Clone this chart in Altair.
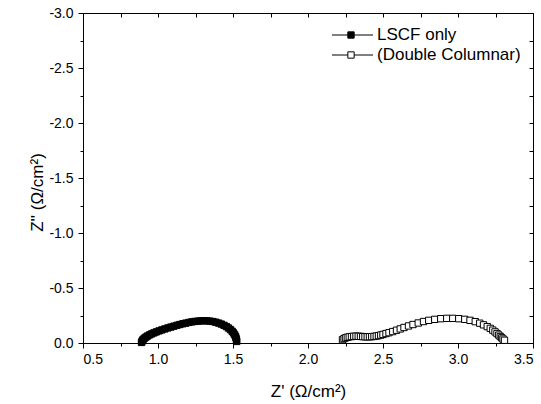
import altair as alt
import pandas as pd

# Impedance spectra (Nyquist form): real part Z' and imaginary part Z'' in ohm/cm^2
series_names = ["LSCF only", "(Double Columnar)"]
series_fills = ["black", "white"]

lscf_zre = [0.890, 0.893, 0.897, 0.902, 0.910, 0.920, 0.931, 0.944, 0.958, 0.973,
            0.989, 1.007, 1.026, 1.046, 1.066, 1.086, 1.106, 1.126, 1.146, 1.166,
            1.186, 1.206, 1.226, 1.246, 1.266, 1.286, 1.306, 1.326, 1.346, 1.366,
            1.385, 1.404, 1.422, 1.440, 1.456, 1.470, 1.483, 1.494, 1.503, 1.510,
            1.516, 1.520, 1.523, 1.525]
lscf_zim = [-0.005, -0.014, -0.024, -0.034, -0.044, -0.054, -0.064, -0.074, -0.083, -0.092,
            -0.101, -0.110, -0.119, -0.128, -0.137, -0.145, -0.153, -0.161, -0.168, -0.175,
            -0.181, -0.187, -0.192, -0.196, -0.199, -0.201, -0.202, -0.201, -0.199, -0.195,
            -0.189, -0.181, -0.172, -0.161, -0.149, -0.136, -0.122, -0.107, -0.092, -0.077,
            -0.062, -0.046, -0.030, -0.014]

dc_zre = [2.230, 2.240, 2.250, 2.262, 2.275, 2.290, 2.305, 2.320, 2.335, 2.350,
          2.365, 2.380, 2.395, 2.410, 2.425, 2.440, 2.455, 2.470, 2.485, 2.500,
          2.520, 2.540, 2.565, 2.590, 2.615, 2.640, 2.670, 2.700, 2.735, 2.770,
          2.805, 2.845, 2.885, 2.925, 2.965, 3.005, 3.045, 3.080, 3.115, 3.145,
          3.170, 3.195, 3.215, 3.232, 3.247, 3.260, 3.272, 3.282, 3.292, 3.300,
          3.310]
dc_zim = [-0.030, -0.040, -0.047, -0.052, -0.056, -0.059, -0.061, -0.062, -0.061, -0.060,
          -0.058, -0.057, -0.056, -0.057, -0.058, -0.060, -0.063, -0.067, -0.072, -0.078,
          -0.086, -0.094, -0.104, -0.116, -0.128, -0.141, -0.155, -0.168, -0.182, -0.195,
          -0.206, -0.215, -0.221, -0.224, -0.224, -0.221, -0.215, -0.206, -0.194, -0.180,
          -0.165, -0.149, -0.133, -0.117, -0.101, -0.086, -0.072, -0.059, -0.047, -0.036,
          -0.025]

x_ticks = [0.5, 0.75, 1.0, 1.25, 1.5, 1.75, 2.0, 2.25, 2.5, 2.75, 3.0, 3.25, 3.5]
y_ticks = [0.0, -0.25, -0.5, -0.75, -1.0, -1.25, -1.5, -1.75, -2.0, -2.25, -2.5, -2.75, -3.0]

rows = []
for name, xs, ys in [(series_names[0], lscf_zre, lscf_zim), (series_names[1], dc_zre, dc_zim)]:
    for i, (a, b) in enumerate(zip(xs, ys)):
        rows.append({"series": name, "zre": a, "zim": b, "idx": i})
df = pd.DataFrame(rows)
legend_df = pd.DataFrame({"series": series_names})

FONT = "Liberation Sans"
major = "datum.value % 0.5 === 0"
tick_len = {"condition": {"test": major, "value": 5}, "value": 3}

x_scale = alt.Scale(domain=[0.5, 3.5], nice=False, zero=False)
y_scale = alt.Scale(domain=[-3.0, 0.0], nice=False, zero=False, reverse=True)

axis_style = dict(grid=False, domainColor="black", tickColor="black", tickWidth=1,
                  labelFont=FONT, labelFontSize=14, labelColor="black",
                  titleFont=FONT, titleFontSize=17, titleFontWeight="normal", titleColor="black")

x_axis = alt.Axis(values=x_ticks, tickSize=tick_len, labelPadding=4,
                  labelExpr=f"{major} ? format(datum.value, '.1f') : ''",
                  title="Z' (Ω/cm²)", titleX=225, titleY=48, titleBaseline="middle",
                  titleAlign="center", **axis_style)
y_axis = alt.Axis(values=y_ticks, tickSize=tick_len, labelPadding=5,
                  labelExpr=f"{major} ? replace(format(datum.value, '.1f'), '\u2212', '-') : ''",
                  title="Z'' (Ω/cm²)", titleX=-46, titleY=179, titleAngle=-90,
                  titleBaseline="middle", titleAlign="center", **axis_style)

# mirrored axes on top and right with inward ticks
top_axis = alt.Axis(orient="top", values=x_ticks, labels=False, domain=False, title=None,
                    tickSize=4, offset=-4, tickColor="black", grid=False)
right_axis = alt.Axis(orient="right", values=y_ticks, labels=False, domain=False, title=None,
                      tickSize=4, offset=-4, tickColor="black", grid=False)

lines = alt.Chart(df).mark_line(color="black", strokeWidth=1).encode(
    x=alt.X("zre:Q", scale=x_scale, axis=None),
    y=alt.Y("zim:Q", scale=y_scale, axis=None),
    detail="series:N",
    order="idx:Q",
)

points = alt.Chart(df).mark_square(size=40, stroke="black", strokeWidth=1, opacity=1).encode(
    x=alt.X("zre:Q", scale=x_scale, axis=x_axis),
    y=alt.Y("zim:Q", scale=y_scale, axis=y_axis),
    fill=alt.Fill("series:N", scale=alt.Scale(domain=series_names, range=series_fills),
                  legend=None),
)

mirror = alt.Chart(df).mark_square(opacity=0).encode(
    x=alt.X("zre:Q", scale=x_scale, axis=top_axis),
    y=alt.Y("zim:Q", scale=y_scale, axis=right_axis),
)

# key in the upper right: line with marker, then the series name
legend_layers = []
for i, name in enumerate(series_names):
    ypx = 22 + 20 * i
    entry = alt.Chart(legend_df).transform_filter(alt.datum.series == name)
    legend_layers += [
        entry.mark_rule(color="black", strokeWidth=1).encode(
            x=alt.value(249), x2=alt.value(290), y=alt.value(ypx)),
        entry.mark_square(size=40, stroke="black", strokeWidth=1, opacity=1).encode(
            x=alt.value(268), y=alt.value(ypx), fill=alt.value(series_fills[i])),
        entry.mark_text(align="left", baseline="middle", font=FONT, fontSize=17,
                        color="black").encode(
            x=alt.value(294), y=alt.value(ypx), text="series:N"),
    ]

chart = alt.layer(lines, points, mirror, *legend_layers).resolve_axis(
    x="independent", y="independent"
).properties(
    width=450, height=330,
    autosize=alt.AutoSizeParams(type="none"),
    padding={"left": 83, "top": 13, "right": 8, "bottom": 61},
    background="white",
).configure_view(stroke="black", strokeWidth=1)

chart.save("out.html", embed_options={"renderer": "svg", "actions": False})
